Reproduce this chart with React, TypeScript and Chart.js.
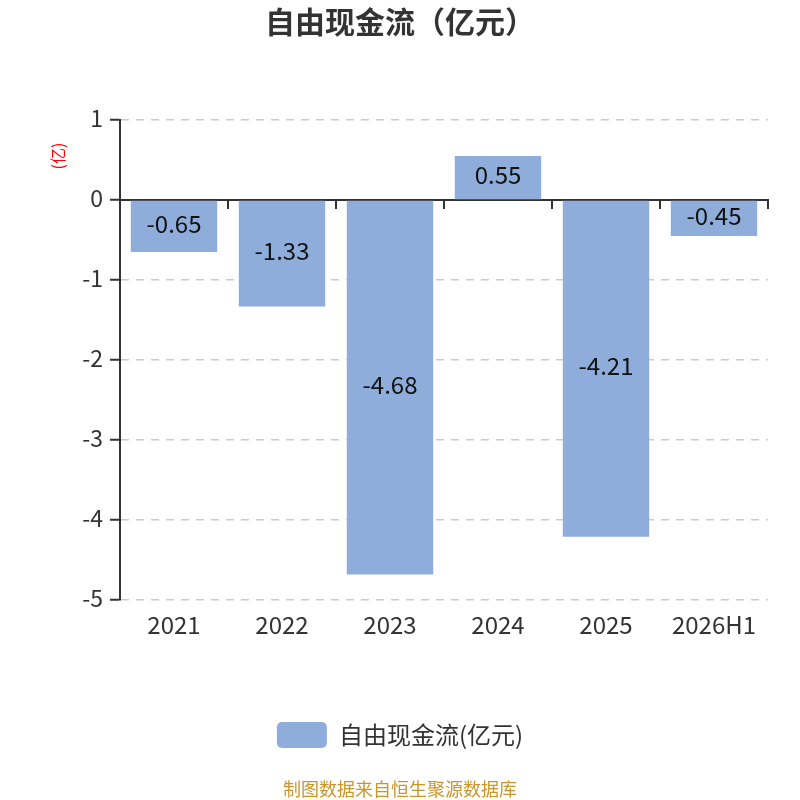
import React, { useEffect, useRef } from "react";
import { Chart, registerables } from "chart.js";

Chart.register(...registerables);

const categories = ["2021", "2022", "2023", "2024", "2025", "2026H1"];
const freeCashFlow = [-0.65, -1.33, -4.68, 0.55, -4.21, -0.45];
const yMin = -5;
const yMax = 1;
const yStep = 1;
const seriesName = "自由现金流(亿元)";
const titleText = "自由现金流（亿元）";
const unitLabel = "(亿)";
const sourceText = "制图数据来自恒生聚源数据库";

const FONT = "'Noto Sans CJK SC', 'Noto Sans', sans-serif";
const BAR_COLOR = "#8eaddb";
const AXIS_COLOR = "#333333";

const dataLabelPlugin = {
  id: "barValueLabels",
  afterDatasetsDraw(chart: any) {
    const ctx = chart.ctx;
    const meta = chart.getDatasetMeta(0);
    ctx.save();
    ctx.font = `24px ${FONT}`;
    ctx.fillStyle = "#111111";
    ctx.textAlign = "center";
    ctx.textBaseline = "middle";
    meta.data.forEach((bar: any, i: number) => {
      const { x, y, base } = bar.getProps(["x", "y", "base"], true);
      ctx.fillText(freeCashFlow[i].toFixed(2), x, (y + base) / 2 - 3);
    });
    ctx.restore();
  },
};

const unitLabelPlugin = {
  id: "unitLabel",
  afterDraw(chart: any) {
    const ctx = chart.ctx;
    const area = chart.chartArea;
    ctx.save();
    ctx.translate(area.left - 62, area.top + 36);
    ctx.rotate(-Math.PI / 2);
    ctx.font = `16px ${FONT}`;
    ctx.fillStyle = "#ff0000";
    ctx.textAlign = "center";
    ctx.textBaseline = "middle";
    ctx.fillText(unitLabel, 0, 0);
    ctx.restore();
  },
};

export default function App() {
  const canvasRef = useRef<HTMLCanvasElement | null>(null);

  useEffect(() => {
    document.body.style.margin = "0";
    const canvas = canvasRef.current;
    if (!canvas) return;
    const chart = new Chart(canvas, {
      type: "bar",
      data: {
        labels: categories,
        datasets: [
          {
            label: seriesName,
            data: freeCashFlow,
            backgroundColor: BAR_COLOR,
            borderWidth: 0,
            barPercentage: 0.8,
            categoryPercentage: 1.0,
            xAxisID: "x",
            yAxisID: "y",
          },
        ],
      },
      options: {
        responsive: false,
        animation: false,
        devicePixelRatio: 1,
        layout: { padding: { left: 32, right: 32, top: 0, bottom: 0 } },
        font: { family: FONT },
        plugins: {
          title: {
            display: true,
            text: titleText,
            color: "#333333",
            font: { family: FONT, size: 30, weight: "bold" },
            padding: { top: 4, bottom: 80 },
          },
          subtitle: {
            display: true,
            position: "bottom",
            text: sourceText,
            color: "#c9962c",
            font: { family: FONT, size: 18, weight: "normal" },
            padding: { top: 20.4, bottom: 0 },
          },
          legend: {
            display: true,
            position: "bottom",
            labels: {
              color: "#333333",
              font: { family: FONT, size: 24 },
              boxWidth: 50,
              boxHeight: 26,
              useBorderRadius: true,
              borderRadius: 5,
              padding: 10,
            },
          },
          tooltip: { enabled: false },
        },
        scales: {
          x: {
            type: "category",
            position: "bottom",
            offset: true,
            grid: { display: false, drawTicks: false },
            border: { display: false },
            ticks: {
              color: AXIS_COLOR,
              font: { family: FONT, size: 24 },
              padding: 10,
              maxRotation: 0,
              autoSkip: false,
            },
            afterFit: (scale: any) => {
              scale.height = 112;
            },
          },
          xZero: {
            type: "category",
            position: { y: 0 },
            offset: true,
            grid: {
              display: true,
              drawOnChartArea: false,
              drawTicks: true,
              tickLength: 8,
              offset: true,
              color: AXIS_COLOR,
              tickColor: AXIS_COLOR,
              lineWidth: 2,
            },
            border: { display: true, color: AXIS_COLOR, width: 2 },
            ticks: { display: false },
          },
          y: {
            type: "linear",
            position: "left",
            min: yMin,
            max: yMax,
            ticks: {
              stepSize: yStep,
              color: AXIS_COLOR,
              font: { family: FONT, size: 23 },
              padding: 7,
              labelOffset: -2,
            },
            grid: {
              color: "#cccccc",
              lineWidth: 1.5,
              tickColor: AXIS_COLOR,
              tickLength: 10,
              tickWidth: 2,
              tickBorderDash: [],
            },
            border: { display: true, color: AXIS_COLOR, width: 2, dash: [8, 7] },
            afterFit: (scale: any) => {
              scale.width = 88;
            },
          },
        },
      } as any,
      plugins: [dataLabelPlugin, unitLabelPlugin],
    });
    return () => chart.destroy();
  }, []);

  return (
    <div style={{ width: 800, height: 800 }}>
      <canvas ref={canvasRef} width={800} height={800} style={{ display: "block" }} />
    </div>
  );
}
